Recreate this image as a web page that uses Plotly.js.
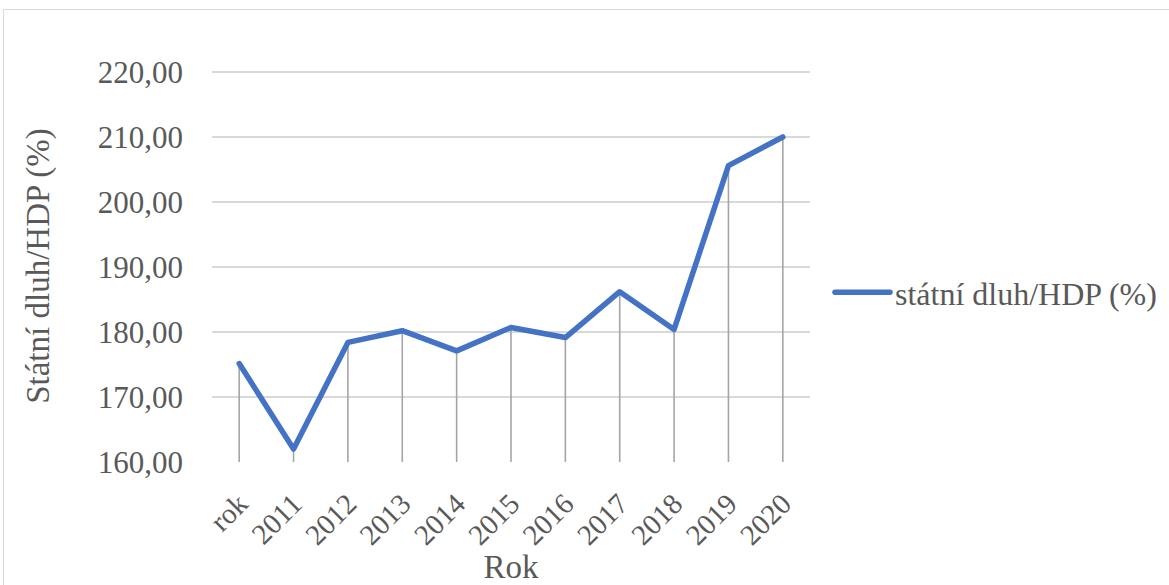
<!DOCTYPE html>
<html>
<head>
<meta charset="utf-8">
<script src="https://cdn.plot.ly/plotly-3.0.1.min.js"></script>
<style>
html,body{margin:0;padding:0;background:#fff;}
#chart{width:1169px;height:585px;}
</style>
</head>
<body>
<div id="chart"></div>
<script>
var categories = ["rok","2011","2012","2013","2014","2015","2016","2017","2018","2019","2020"];
var debtRatio = [175.15, 162.0, 178.4, 180.2, 177.1, 180.7, 179.15, 186.2, 180.4, 205.6, 210.0];
var seriesName = "státní dluh/HDP (%)";
var yMin = 160, yMax = 220;

var dropDown = debtRatio.map(function(v){ return v - yMin; });
var zeros = debtRatio.map(function(){ return 0; });

var font = "'Liberation Serif', 'Times New Roman', serif";
var grey = "#595959";

var dropTrace = {
  x: categories, y: debtRatio, type: "scatter", mode: "markers",
  marker: {size: 1, color: "rgba(0,0,0,0)"},
  error_y: {type: "data", symmetric: false, array: zeros, arrayminus: dropDown,
            width: 0, color: "#A5A5A5", thickness: 1.6},
  showlegend: false, hoverinfo: "skip"
};
var lineTrace = {
  x: categories, y: debtRatio, type: "scatter", mode: "lines",
  name: seriesName,
  line: {color: "#4472C4", width: 5.5}
};

// 2px of headroom above the top gridline so that it is drawn
var topPad = 2 / 6.5;

var layout = {
  width: 1169, height: 585,
  margin: {l: 212, r: 359, t: 70, b: 123},
  paper_bgcolor: "#ffffff", plot_bgcolor: "#ffffff",
  separators: ", ",
  font: {family: font, size: 31, color: grey},
  showlegend: true,
  legend: {xref: "container", yref: "container", x: 0.7100, y: 0.5, xanchor: "left", yanchor: "middle",
           itemwidth: 55,
           font: {family: font, size: 32, color: grey}, bgcolor: "rgba(0,0,0,0)"},
  xaxis: {
    type: "category", range: [-0.5, 10.5], tickangle: -45, showgrid: false, zeroline: false,
    showline: false, ticks: "", ticklabelstandoff: 18,
    tickfont: {family: font, size: 29, color: grey},
    title: {text: "Rok", font: {family: font, size: 33, color: grey}, standoff: 10},
    automargin: false, fixedrange: true
  },
  yaxis: {
    range: [yMin, yMax + topPad], dtick: 10, tick0: 160, tickformat: ".2f",
    showgrid: true, gridcolor: "#D9D9D9", gridwidth: 1.5,
    zeroline: false, showline: false, ticks: "", ticklabelstandoff: 28,
    tickfont: {family: font, size: 31, color: grey},
    title: {text: "Státní dluh/HDP (%)", font: {family: font, size: 33, color: grey}, standoff: 38},
    automargin: false, fixedrange: true
  },
  shapes: [{
    type: "rect", xref: "paper", yref: "paper",
    x0: (3.5 - 212) / 598, x1: 1.7, y0: -1, y1: (462 - 9.5) / 392,
    line: {color: "#D9D9D9", width: 1}, fillcolor: "rgba(0,0,0,0)", layer: "below"
  }]
};

Plotly.newPlot("chart", [dropTrace, lineTrace], layout, {displayModeBar: false, staticPlot: true}).then(function(gd){
  gd.querySelectorAll(".scatterlayer .js-line").forEach(function(p){
    p.style.strokeLinejoin = "round";
    p.style.strokeLinecap = "round";
  });
  gd.querySelectorAll(".legend .legendlines path").forEach(function(p){
    p.setAttribute("d", "M5,0h55");
    p.style.strokeLinecap = "round";
  });
});
</script>
</body>
</html>
